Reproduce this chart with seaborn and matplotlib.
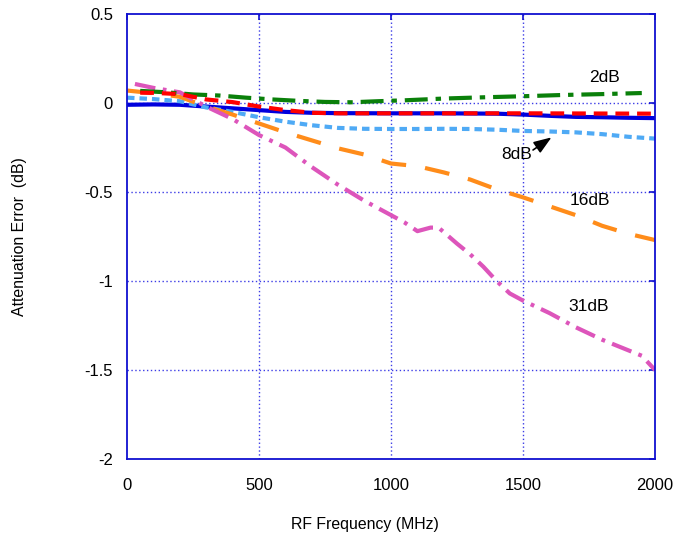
import matplotlib
matplotlib.use('Agg')
import matplotlib.pyplot as plt
import pandas as pd
import seaborn as sns

# attenuation error vs RF frequency, one curve per attenuation setting
FREQ_1DB = [0, 100, 200, 300, 400, 500, 600, 700, 800, 1000, 1200, 1400, 1500, 1600, 1700, 1800, 1900, 2000]
ERR_1DB = [-0.01, -0.008, -0.01, -0.02, -0.03, -0.04, -0.05, -0.055, -0.057, -0.058, -0.058, -0.06,
           -0.065, -0.072, -0.078, -0.08, -0.083, -0.085]

FREQ_8DB = [0, 100, 200, 300, 400, 500, 600, 700, 800, 900, 1000, 1100, 1200, 1300, 1400, 1500,
            1600, 1700, 1800, 1900, 2000]
ERR_8DB = [0.03, 0.022, 0.01, -0.025, -0.05, -0.08, -0.105, -0.125, -0.14, -0.145, -0.146, -0.146,
           -0.145, -0.146, -0.15, -0.157, -0.16, -0.165, -0.175, -0.19, -0.2]

FREQ_16DB = [0, 100, 200, 300, 400, 500, 600, 700, 800, 900, 1000, 1100, 1200, 1300, 1400, 1500,
             1600, 1700, 1800, 1900, 2000]
ERR_16DB = [0.07, 0.055, 0.035, -0.02, -0.065, -0.115, -0.165, -0.21, -0.255, -0.29, -0.34, -0.355,
            -0.39, -0.43, -0.485, -0.53, -0.58, -0.63, -0.69, -0.735, -0.77]

FREQ_31DB = [30, 100, 200, 300, 400, 500, 600, 700, 800, 900, 1000, 1050, 1100, 1150, 1180, 1250,
             1300, 1350, 1400, 1450, 1500, 1600, 1700, 1800, 1900, 1950, 2000]
ERR_31DB = [0.107, 0.085, 0.06, -0.02, -0.09, -0.18, -0.25, -0.36, -0.46, -0.55, -0.63, -0.67, -0.72,
            -0.7, -0.7, -0.79, -0.85, -0.92, -1.0, -1.07, -1.11, -1.18, -1.26, -1.33, -1.39, -1.42, -1.5]

FREQ_2DB = [50, 150, 250, 350, 450, 550, 650, 750, 850, 950, 1050, 1200, 1350, 1500, 1650, 1800, 1950]
ERR_2DB = [0.068, 0.06, 0.048, 0.042, 0.03, 0.02, 0.012, 0.006, 0.004, 0.01, 0.015, 0.025, 0.032,
           0.038, 0.045, 0.05, 0.056]

FREQ_4DB = [50, 100, 200, 300, 400, 500, 600, 700, 800, 1000, 1500, 2000]
ERR_4DB = [0.058, 0.057, 0.05, 0.02, 0.005, -0.02, -0.04, -0.055, -0.058, -0.058, -0.058, -0.06]

X_TICKS = [0, 500, 1000, 1500, 2000]
Y_TICKS = [-2, -1.5, -1, -0.5, 0, 0.5]

SERIES = [
    ('1dB', FREQ_1DB, ERR_1DB),
    ('8dB', FREQ_8DB, ERR_8DB),
    ('16dB', FREQ_16DB, ERR_16DB),
    ('31dB', FREQ_31DB, ERR_31DB),
    ('2dB', FREQ_2DB, ERR_2DB),
    ('4dB', FREQ_4DB, ERR_4DB),
]

PALETTE = {
    '1dB': '#0000dd',
    '8dB': '#4faaf5',
    '16dB': '#ff8c1a',
    '31dB': '#dd55bb',
    '2dB': '#0a800a',
    '4dB': '#ff0000',
}
DASHES = {
    '1dB': '',
    '8dB': (1.8, 1.2),
    '16dB': (6.0, 4.6),
    '31dB': (5.0, 1.8, 0.9, 1.8),
    '2dB': (5.5, 1.9, 1.3, 1.9),
    '4dB': (3.3, 1.9),
}


def main():
    sns.set_theme(style='white')
    plt.rcParams['font.family'] = ['Liberation Sans', 'DejaVu Sans']
    plt.rcParams['axes.unicode_minus'] = False
    plt.rcParams['text.color'] = 'black'
    plt.rcParams['axes.labelcolor'] = 'black'

    frames = [pd.DataFrame({'freq': f, 'error': e, 'setting': name}) for name, f, e in SERIES]
    df = pd.concat(frames, ignore_index=True)

    fig = plt.figure(figsize=(6.74, 5.39), dpi=100)
    ax = fig.add_axes([127 / 674, 1 - 459 / 539, 528 / 674, 445 / 539])

    sns.lineplot(
        data=df, x='freq', y='error', hue='setting', style='setting',
        palette=PALETTE, dashes=DASHES, linewidth=3, estimator=None,
        sort=False, legend=False, ax=ax,
    )

    ax.set_xlim(0, 2000)
    ax.set_ylim(-2, 0.5)
    ax.set_xticks(X_TICKS)
    ax.set_xticklabels([f'{t:g}' for t in X_TICKS])
    ax.set_yticks(Y_TICKS)
    ax.set_yticklabels([f'{t:g}' for t in Y_TICKS])

    grid_kw = dict(color='#3c3ce6', linestyle=(0, (1, 1.8)), linewidth=1, zorder=0)
    for x in X_TICKS[1:-1]:
        ax.axvline(x, **grid_kw)
    for y in Y_TICKS[1:-1]:
        ax.axhline(y, **grid_kw)

    for spine in ax.spines.values():
        spine.set_color('#1010d0')
        spine.set_linewidth(1.3)

    ax.tick_params(direction='in', length=4, width=1.2, color='#1010d0', labelsize=12,
                   labelcolor='black', top=True, right=True)
    ax.tick_params(axis='x', pad=14)
    ax.tick_params(axis='y', pad=10)

    ax.set_xlabel('RF Frequency (MHz)', fontsize=11.4)
    ax.set_ylabel('Attenuation Error  (dB)', fontsize=11.4)
    ax.xaxis.set_label_coords(0.451, -0.130)
    ax.yaxis.set_label_coords(-0.189, 0.5)

    ax.text(1810, 0.146, '2dB', fontsize=12.5, ha='center', va='center')
    ax.text(1754, -0.545, '16dB', fontsize=12.5, ha='center', va='center')
    ax.text(1750, -1.146, '31dB', fontsize=12.5, ha='center', va='center')
    ax.text(1477, -0.29, '8dB', fontsize=12.5, ha='center', va='center')
    ax.annotate('', xy=(1608, -0.193), xytext=(1538, -0.264),
                arrowprops=dict(arrowstyle='-|>,head_length=0.6,head_width=0.22',
                                color='black', lw=1.2, mutation_scale=18,
                                shrinkA=0, shrinkB=0))

    fig.savefig('out.png', dpi=100)
    plt.close(fig)


if __name__ == '__main__':
    main()
